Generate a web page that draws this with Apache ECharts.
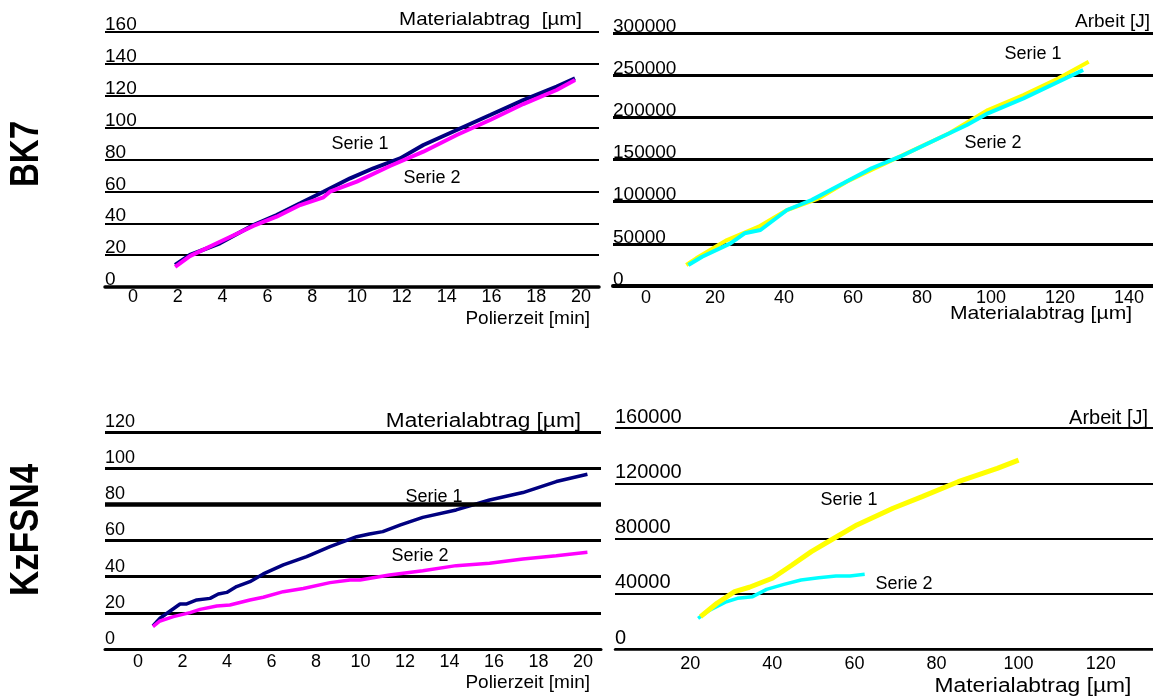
<!DOCTYPE html>
<html>
<head>
<meta charset="utf-8">
<title>BK7 / KzFSN4</title>
<script src="https://cdn.jsdelivr.net/npm/echarts@6/dist/echarts.min.js"></script>
<style>
  html, body { margin: 0; padding: 0; background: #fff; }
  #chart { width: 1153px; height: 697px; }
</style>
</head>
<body>
<div id="chart"></div>
<script>
// tick labels
var timeTicks = [0, 2, 4, 6, 8, 10, 12, 14, 16, 18, 20];
var bk7AbtragTicks = [0, 20, 40, 60, 80, 100, 120, 140];
var kzAbtragTicks = [20, 40, 60, 80, 100, 120];

// BK7, Materialabtrag over Polierzeit
var bk7Time1 = [1.88, 2.54, 3.88, 5.37, 6.41, 7.46, 8.50, 9.69, 10.73, 11.92, 12.96, 14.45, 15.94, 17.42, 18.91, 19.73];
var bk7Abtrag1 = [13.8, 20.1, 27.4, 38.9, 45.2, 52.5, 59.8, 68.2, 74.5, 80.7, 89.1, 98.5, 107.9, 117.3, 125.7, 130.9];
var bk7Time2 = [1.88, 2.54, 3.88, 5.37, 6.41, 7.46, 8.50, 8.79, 9.99, 11.47, 12.96, 14.45, 15.94, 17.42, 18.91, 19.73];
var bk7Abtrag2 = [12.7, 19.4, 28.4, 38.3, 44.1, 51.4, 56.3, 59.8, 66.1, 75.9, 84.9, 95.4, 104.8, 114.8, 123.6, 129.9];

// BK7, Arbeit over Materialabtrag
var bk7AbtragW1 = [11.7, 14.6, 23.5, 32.7, 40.9, 50.1, 58.2, 66.4, 76.6, 87.9, 99.1, 109.4, 119.6, 128.3];
var bk7Arbeit1 = [24900, 32800, 54500, 70300, 90100, 104000, 123700, 139600, 159300, 181100, 208700, 226500, 246300, 266000];
var bk7AbtragW2 = [12.3, 16.3, 24.5, 28.6, 33.2, 40.9, 48.0, 57.2, 65.4, 73.6, 83.8, 93.0, 99.1, 109.4, 126.7];
var bk7Arbeit2 = [24900, 34700, 50600, 62500, 66400, 90100, 102000, 121800, 139600, 153300, 173100, 190900, 204700, 222500, 256100];

// KzFSN4, Materialabtrag over Polierzeit
var kzTime1 = [0.67, 0.99, 1.89, 2.19, 2.64, 3.24, 3.61, 3.99, 4.43, 5.03, 5.63, 6.53, 7.58, 8.63, 9.83, 10.4, 11.0, 11.8, 12.8, 14.3, 15.8, 17.3, 18.8, 20.2];
var kzAbtrag1 = [12.7, 17.0, 24.9, 24.9, 27.1, 28.0, 30.4, 31.3, 34.5, 37.2, 41.5, 46.5, 51.1, 56.6, 62.1, 63.6, 64.9, 68.6, 72.8, 76.9, 82.4, 86.5, 92.6, 96.6];
var kzTime2 = [0.67, 0.99, 1.59, 2.34, 2.79, 3.54, 4.13, 5.03, 5.63, 6.53, 7.43, 8.63, 9.53, 9.98, 11.3, 12.8, 14.3, 15.8, 17.3, 18.8, 20.2];
var kzAbtrag2 = [12.4, 15.5, 17.9, 20.1, 21.9, 23.8, 24.3, 27.1, 28.6, 31.7, 33.5, 36.7, 38.2, 38.2, 40.9, 43.3, 46.1, 47.4, 49.8, 51.6, 53.5];

// KzFSN4, Arbeit over Materialabtrag
var kzAbtragW1 = [22.5, 26.5, 30.8, 34.4, 40.0, 44.8, 49.5, 54.3, 60.6, 69.4, 76.5, 85.3, 94.8, 100.0];
var kzArbeit1 = [23400, 33100, 41500, 44700, 51200, 60800, 70500, 78900, 89800, 101900, 110300, 121100, 130800, 136800];
var kzAbtragW2 = [21.9, 24.5, 28.8, 31.5, 35.2, 38.6, 42.8, 47.0, 51.3, 55.5, 58.9, 62.5];
var kzArbeit2 = [22200, 27700, 34200, 36700, 37900, 43200, 46800, 50000, 51600, 52800, 52800, 54100];

var FONT = "'Liberation Sans', Arial, sans-serif";

function zip(xs, ys) {
  return xs.map(function (x, i) { return [x, ys[i]]; });
}

function plain(v) { return String(v); }

function xAxisOf(grid, min, max, ticks, margin, lineWidth) {
  return {
    gridIndex: grid, type: 'value', min: min, max: max,
    axisLine: { lineStyle: { color: '#000', width: lineWidth } },
    axisTick: { show: false },
    splitLine: { show: false },
    axisLabel: { customValues: ticks, formatter: plain, margin: margin, fontSize: 18, color: '#000', fontFamily: FONT }
  };
}

function yAxisOf(grid, max, interval, fontSize, lineHeight, lineWidth) {
  return {
    gridIndex: grid, type: 'value', min: 0, max: max, interval: interval,
    axisLine: { show: false },
    axisTick: { show: false },
    axisLabel: {
      inside: true, margin: 0, verticalAlign: 'bottom', lineHeight: lineHeight, formatter: plain,
      fontSize: fontSize, color: '#000', fontFamily: FONT
    },
    splitLine: { lineStyle: { color: '#000', width: lineWidth } }
  };
}

function line(grid, data, color, width) {
  return {
    type: 'line', xAxisIndex: grid, yAxisIndex: grid, data: data,
    showSymbol: false, silent: true, animation: false,
    lineStyle: { color: color, width: width }
  };
}

function label(text, x, y, opts) {
  opts = opts || {};
  return {
    type: 'text', x: x, y: y, scaleX: opts.scaleX || 1, silent: true,
    style: {
      text: text, fill: '#000', fontSize: opts.size || 18, fontFamily: FONT,
      align: opts.align || 'center', verticalAlign: 'middle',
      textAlign: opts.align || 'center', textVerticalAlign: 'middle'
    }
  };
}

function sideLabel(text, x, y, size, sy) {
  return {
    type: 'text', x: x, y: y, rotation: Math.PI / 2, scaleY: sy, silent: true,
    style: {
      text: text, fill: '#000', fontSize: size, fontWeight: 'bold', fontFamily: FONT,
      align: 'center', verticalAlign: 'middle', textAlign: 'center', textVerticalAlign: 'middle'
    }
  };
}

var chart = echarts.init(document.getElementById('chart'), null, { renderer: 'canvas' });

var kzLine1 = line(2, zip(kzTime1, kzAbtrag1), '#000080', 3.5);
kzLine1.markLine = {
  silent: true, symbol: 'none', animation: false, label: { show: false },
  lineStyle: { color: '#000', width: 4.5, type: 'solid' },
  data: [{ yAxis: 80 }]
};

chart.setOption({
  backgroundColor: '#fff',
  animation: false,
  grid: [
    { left: 105, top: 32, width: 494, height: 255, outerBoundsMode: 'none' },
    { left: 613, top: 33, width: 540, height: 253, outerBoundsMode: 'none' },
    { left: 105, top: 432, width: 496, height: 217, outerBoundsMode: 'none' },
    { left: 615, top: 428, width: 538, height: 221, outerBoundsMode: 'none' }
  ],
  xAxis: [
    xAxisOf(0, -1.25, 20.8, timeTicks, 1, 3.5),
    xAxisOf(1, -9.53, 146.94, bk7AbtragTicks, 3, 4),
    xAxisOf(2, -1.483, 20.81, timeTicks, 4, 3),
    xAxisOf(3, 1.66, 132.75, kzAbtragTicks, 6, 2.5)
  ],
  yAxis: [
    yAxisOf(0, 160, 20, 19, 14, 2),
    yAxisOf(1, 300000, 50000, 19, 13, 3),
    yAxisOf(2, 120, 20, 18, 20, 3),
    yAxisOf(3, 160000, 40000, 20, 22, 2)
  ],
  series: [
    line(0, zip(bk7Time1, bk7Abtrag1), '#000080', 4),
    line(0, zip(bk7Time2, bk7Abtrag2), '#ff00ff', 4),
    line(1, zip(bk7AbtragW1, bk7Arbeit1), '#ffff00', 4),
    line(1, zip(bk7AbtragW2, bk7Arbeit2), '#00ffff', 4),
    kzLine1,
    line(2, zip(kzTime2, kzAbtrag2), '#ff00ff', 3.5),
    line(3, zip(kzAbtragW2, kzArbeit2), '#00ffff', 3.5),
    line(3, zip(kzAbtragW1, kzArbeit1), '#ffff00', 5)
  ],
  graphic: [
    sideLabel('BK7', 27, 154, 33, 1.25),
    sideLabel('KzFSN4', 27, 530, 35, 1.18),

    label('Materialabtrag  [µm]', 582, 20, { align: 'right', size: 19, scaleX: 1.08 }),
    label('Polierzeit [min]', 590, 319, { align: 'right', size: 19 }),
    label('Serie 1', 360, 144),
    label('Serie 2', 432, 178),

    label('Arbeit [J]', 1150, 22, { align: 'right', size: 19 }),
    label('Materialabtrag [µm]', 1041, 314, { size: 19, scaleX: 1.11 }),
    label('Serie 1', 1033, 54),
    label('Serie 2', 993, 143),

    label('Materialabtrag [µm]', 581, 421, { align: 'right', size: 20, scaleX: 1.13 }),
    label('Polierzeit [min]', 590, 683, { align: 'right', size: 19 }),
    label('Serie 1', 434, 497),
    label('Serie 2', 420, 556),

    label('Arbeit [J]', 1148, 418, { align: 'right', size: 20 }),
    label('Materialabtrag [µm]', 1033, 686, { size: 20, scaleX: 1.14 }),
    label('Serie 1', 849, 500),
    label('Serie 2', 904, 584)
  ]
});
</script>
</body>
</html>
